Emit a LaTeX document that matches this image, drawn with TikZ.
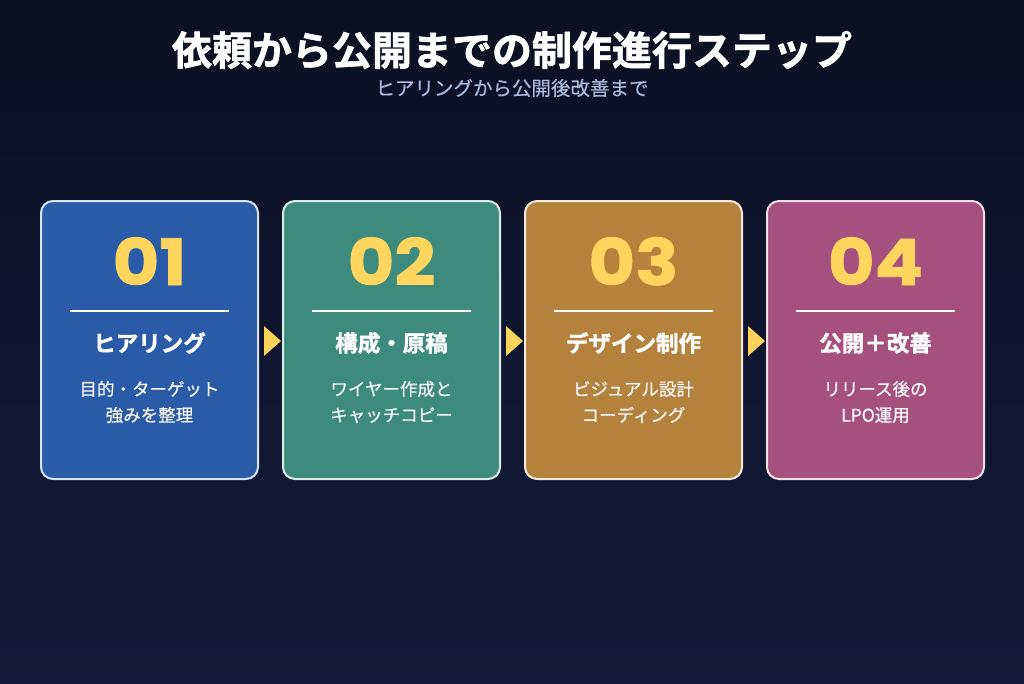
\documentclass[tikz,border=0pt]{standalone}
\usepackage{fontspec}
\setmainfont{Noto Sans CJK JP}
\newfontfamily\jpmed[FakeBold=0.5]{Noto Sans CJK JP}
\newfontfamily\jpb{Noto Sans CJK JP Bold}
\newfontfamily\jpheavy[FakeBold=1.6]{Noto Sans CJK JP Bold}
\newfontfamily\numfont[FakeBold=1.2,FakeStretch=1.12]{Poppins Bold}
\definecolor{bgtop}{HTML}{0B1022}
\definecolor{bgbot}{HTML}{141B3A}
\definecolor{cA}{HTML}{2A5BA8}
\definecolor{cB}{HTML}{3D8A7E}
\definecolor{cC}{HTML}{B5823E}
\definecolor{cD}{HTML}{A65080}
\definecolor{numy}{HTML}{FFD55E}
\definecolor{arry}{HTML}{FCD35A}
\definecolor{subt}{HTML}{A9B8DE}
\begin{document}
\begin{tikzpicture}[x=1pt,y=-1pt,
  card/.style={draw=#1!18!white,line width=2pt,fill=#1,rounded corners=12pt},
  numtxt/.style={text=numy,font=\numfont\fontsize{64}{64}\selectfont,anchor=base},
  ttl/.style={text=white,font=\jpheavy\fontsize{22.5}{26}\selectfont},
  desc/.style={text=white!94!gray,font=\jpmed\fontsize{17.5}{26}\selectfont,align=center},
  sep/.style={draw=white,line width=1.3pt},
  arr/.style={fill=arry,draw=none}]
\shade[top color=bgtop,bottom color=bgbot] (0,0) rectangle (1024,683);
\useasboundingbox (0,0) rectangle (1024,683);
\node[text=white,font=\jpheavy\fontsize{40}{44}\selectfont] (title) at (512,50) {依頼から公開までの制作進行ステップ};
\node[text=subt,font=\jpmed\fontsize{19.5}{22}\selectfont] (subtitle) at (512,88) {ヒアリングから公開後改善まで};
\foreach \i/\x/\c/\n/\t/\d in {
 1/41/cA/01/ヒアリング/{目的・ターゲット\\強みを整理},
 2/283/cB/02/構成・原稿/{ワイヤー作成と\\キャッチコピー},
 3/525/cC/03/デザイン制作/{ビジュアル設計\\コーディング},
 4/767/cD/04/公開＋改善/{リリース後の\\LPO運用}} {
  \path[card=\c] (\x,201) rectangle ++(217,278);
  \node[numtxt] (n\i) at (\x+108.5,285) {\n};
  \draw[sep] (\x+29,311) -- (\x+188,311);
  \node[ttl] (t\i) at (\x+108.5,343) {\t};
  \node[desc] (d\i) at (\x+108.5,402) {\d};
}
\foreach \x in {264,506,748} {
  \fill[arr] (\x,326) -- (\x+17,341) -- (\x,356) -- cycle;
}
\end{tikzpicture}
\end{document}
